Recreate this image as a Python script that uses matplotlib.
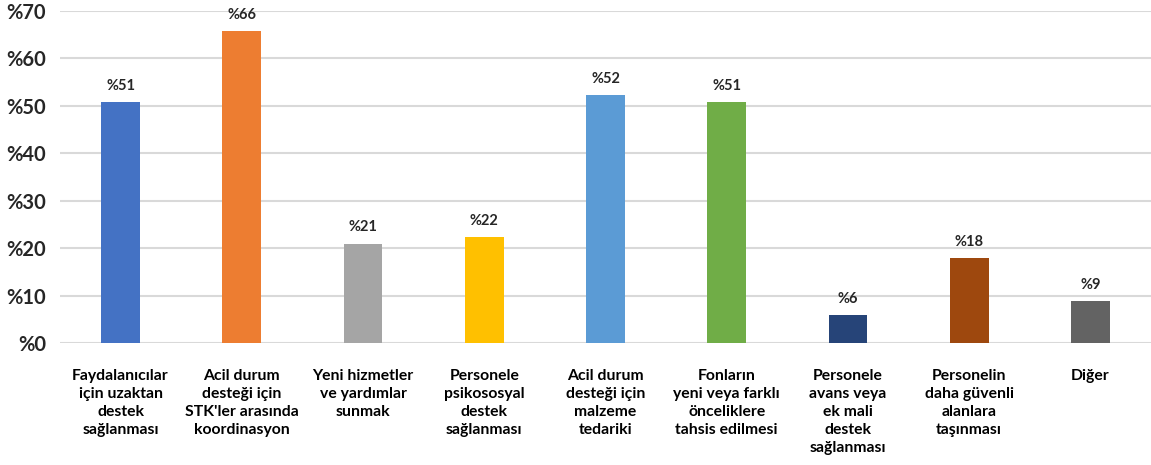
import matplotlib
matplotlib.use("Agg")
import matplotlib.pyplot as plt

categories = [
    "Faydalanıcılar\niçin uzaktan\ndestek\nsağlanması",
    "Acil durum\ndesteği için\nSTK'ler arasında\nkoordinasyon",
    "Yeni hizmetler\nve yardımlar\nsunmak",
    "Personele\npsikososyal\ndestek\nsağlanması",
    "Acil durum\ndesteği için\nmalzeme\ntedariki",
    "Fonların\nyeni veya farklı\nönceliklere\ntahsis edilmesi",
    "Personele\navans veya\nek mali\ndestek\nsağlanması",
    "Personelin\ndaha güvenli\nalanlara\ntaşınması",
    "Diğer",
]
values = [50.8, 65.7, 20.9, 22.3, 52.2, 50.8, 5.8, 17.9, 8.8]
value_labels = ["%51", "%66", "%21", "%22", "%52", "%51", "%6", "%18", "%9"]
colors = ["#4472C4", "#ED7D31", "#A5A5A5", "#FFC000", "#5B9BD5",
          "#70AD47", "#264478", "#9E480E", "#636363"]
yticks = [0, 10, 20, 30, 40, 50, 60, 70]
ytick_labels = ["%0", "%10", "%20", "%30", "%40", "%50", "%60", "%70"]

plt.rcParams['font.family'] = ['Lato', 'DejaVu Sans']

fig = plt.figure(figsize=(11.51, 4.65), dpi=100)
ax = fig.add_axes([60/1151, 1 - 343/465, (1151-60)/1151, (343-11)/465])

x = range(len(categories))
ax.bar(x, values, width=0.32, color=colors, zorder=3)
for i, (v, lab) in enumerate(zip(values, value_labels)):
    ax.text(i, v + 2.0, lab, ha="center", va="bottom", fontsize=10.5,
            fontweight="bold", color="#262626")

ax.set_ylim(0, 70)
ax.set_xlim(-0.5, len(categories) - 0.5)
ax.set_yticks(yticks)
ax.set_yticklabels(ytick_labels, fontsize=14.5, fontweight="bold", color="#262626")
ax.set_xticks(list(x))
ax.set_xticklabels(categories, fontsize=11.3, fontweight="bold", color="#000000",
                   va="top", linespacing=1.35)
ax.tick_params(axis="both", length=0)
ax.tick_params(axis="x", pad=19)
ax.tick_params(axis="y", pad=10)
ax.grid(axis="y", color="#D9D9D9", linewidth=1.5, zorder=0)
for s in ax.spines.values():
    s.set_visible(False)

fig.savefig("out.png", dpi=100)
